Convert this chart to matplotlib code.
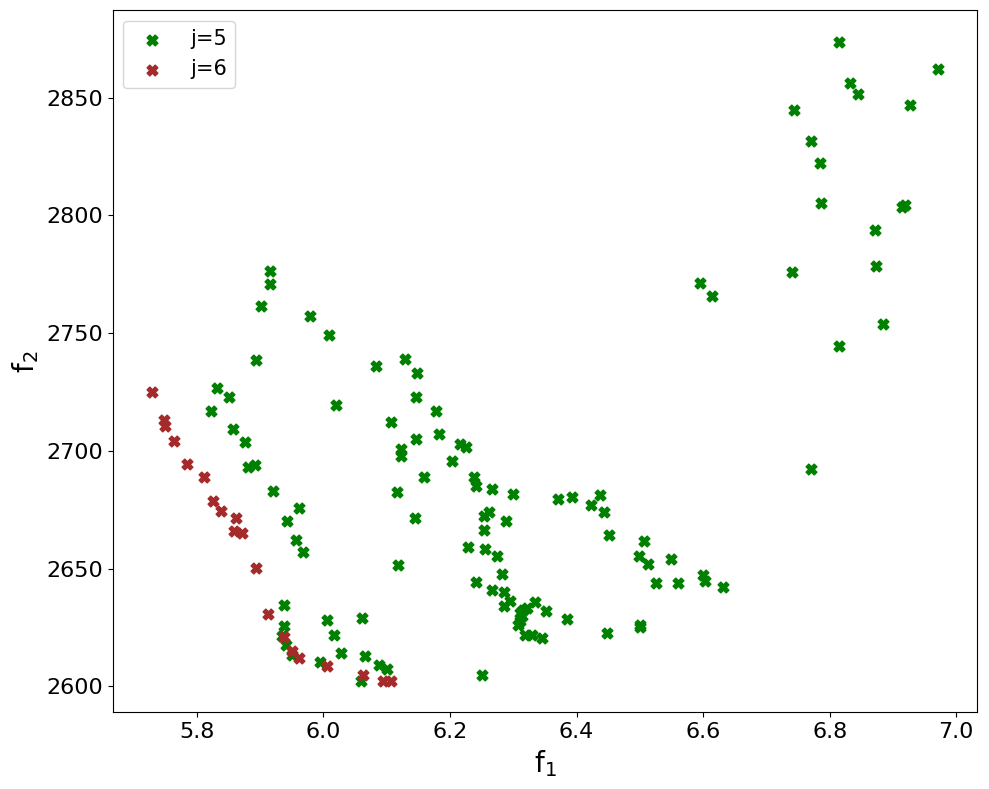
import matplotlib

matplotlib.use("Agg")
import matplotlib.pyplot as plt

# j=5 points (f1, f2)
f1_j5 = [
    5.893, 5.831, 5.850, 5.822, 5.857, 5.876, 5.880, 5.892, 5.920, 5.961,
    5.943, 5.956, 5.967, 5.915, 5.915, 5.902, 5.978, 6.008, 6.019, 6.116,
    6.145, 6.118, 5.938, 5.937, 5.935, 5.941, 5.951, 6.006, 6.017, 6.027,
    5.994, 6.061, 6.066, 6.088, 6.100, 6.060, 6.083, 6.129, 6.148, 6.146,
    6.178, 6.107, 6.146, 6.182, 6.123, 6.123, 6.216, 6.225, 6.203, 6.159,
    6.238, 6.241, 6.267, 6.300, 6.254, 6.262, 6.288, 6.253, 6.370, 6.392,
    6.437, 6.423, 6.444, 6.452, 6.228, 6.255, 6.275, 6.282, 6.241, 6.267,
    6.285, 6.294, 6.285, 6.334, 6.352, 6.385, 6.448, 6.500, 6.500, 6.316,
    6.322, 6.310, 6.313, 6.311, 6.308, 6.318, 6.329, 6.345, 6.250, 6.507,
    6.499, 6.513, 6.526, 6.549, 6.560, 6.600, 6.603, 6.631, 6.595, 6.614,
    6.814, 6.971, 6.832, 6.845, 6.927, 6.744, 6.771, 6.784, 6.787, 6.914,
    6.919, 6.872, 6.873, 6.741, 6.884, 6.815, 6.771,
]
f2_j5 = [
    2738.6, 2726.6, 2722.8, 2716.8, 2709.3, 2703.7, 2693.2, 2693.9, 2683.1, 2675.8,
    2670.2, 2662.2, 2657.1, 2776.6, 2771.1, 2761.4, 2757.5, 2749.4, 2719.4, 2682.5,
    2671.5, 2651.6, 2634.4, 2625.8, 2621.3, 2617.5, 2613.3, 2628.4, 2621.9, 2614.0,
    2610.2, 2629.1, 2613.0, 2609.3, 2607.5, 2602.5, 2735.9, 2738.9, 2732.9, 2722.8,
    2716.8, 2712.2, 2705.0, 2707.1, 2700.8, 2698.0, 2702.8, 2701.6, 2695.6, 2688.9,
    2689.1, 2685.3, 2683.8, 2681.7, 2672.5, 2673.9, 2670.2, 2666.4, 2679.5, 2680.4,
    2681.2, 2677.0, 2674.0, 2664.3, 2659.2, 2658.3, 2655.4, 2647.8, 2644.4, 2641.0,
    2640.1, 2636.3, 2634.2, 2635.9, 2632.1, 2628.7, 2622.8, 2626.0, 2625.1, 2632.6,
    2633.5, 2631.2, 2629.8, 2627.7, 2626.3, 2622.0, 2622.0, 2620.6, 2605.0, 2661.9,
    2655.5, 2652.1, 2643.9, 2654.2, 2643.9, 2647.5, 2644.6, 2642.2, 2771.5, 2766.0,
    2873.6, 2862.2, 2856.4, 2851.6, 2846.9, 2844.8, 2831.7, 2822.3, 2805.4, 2803.5,
    2804.5, 2793.9, 2778.7, 2776.1, 2754.1, 2744.4, 2692.2,
]

# j=6 points (f1, f2)
f1_j6 = [
    5.729, 5.748, 5.750, 5.763, 5.784, 5.811, 5.825, 5.838, 5.861, 5.858,
    5.871, 5.894, 5.913, 5.937, 5.950, 5.962, 6.006, 6.062, 6.094, 6.106,
]
f2_j6 = [
    2724.9, 2713.1, 2710.7, 2704.2, 2694.5, 2689.0, 2678.8, 2674.6, 2671.6, 2666.1,
    2665.0, 2650.3, 2630.8, 2620.8, 2615.1, 2611.9, 2608.8, 2604.7, 2602.5, 2602.5,
]

fig, ax = plt.subplots(figsize=(9.89, 7.89), dpi=100)
fig.subplots_adjust(left=0.114, right=0.988, top=0.987, bottom=0.097)
ax.scatter(f1_j5, f2_j5, marker="X", s=60, color="green", label="j=5")
ax.scatter(f1_j6, f2_j6, marker="X", s=60, color="brown", label="j=6")

ax.set_xlabel("f$_1$", fontsize=20)
ax.set_ylabel("f$_2$", fontsize=20)
ax.tick_params(axis="both", labelsize=16)
ax.legend(loc="upper left", fontsize=15)

fig.savefig("out.png")
